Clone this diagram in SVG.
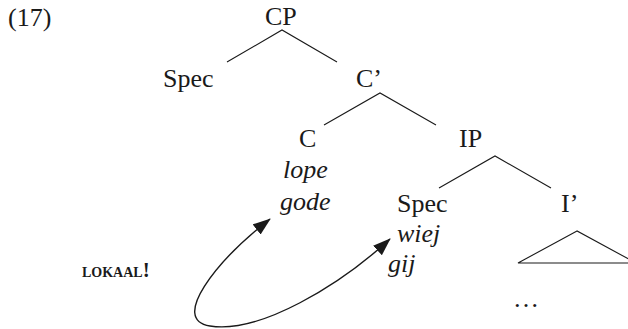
<svg xmlns="http://www.w3.org/2000/svg" width="628" height="329" viewBox="0 0 628 329">
<style>
text{font-family:"Liberation Serif","Times New Roman",serif;font-size:26px;fill:#1a1a1a}
.it{font-style:italic}
.sc{font-size:14px;font-weight:bold}
.ex{font-size:21px;font-weight:bold}
.edge{stroke:#1a1a1a;stroke-width:1.1;fill:none}
.arc{stroke:#1a1a1a;stroke-width:1.4;fill:none;marker-start:url(#ah);marker-end:url(#ah)}
</style>
<defs>
<marker id="ah" markerUnits="userSpaceOnUse" markerWidth="18" markerHeight="14" refX="17" refY="6.5" orient="auto-start-reverse">
<path d="M0,0 L18,6.5 L0,13 Z" fill="#1a1a1a"/>
</marker>
</defs>
<rect width="628" height="329" fill="#fff"/>
<g id="label17"><text x="8" y="26">(17)</text></g>
<g id="CP"><text x="265" y="24.5">CP</text></g>
<g id="SpecC"><text x="163" y="86.5">Spec</text></g>
<g id="Cbar"><text x="356" y="87">C’</text></g>
<g id="C"><text x="299" y="147">C</text><text class="it" x="283" y="178">lope</text><text class="it" x="280" y="210">gode</text></g>
<g id="IP"><text x="459" y="147">IP</text></g>
<g id="SpecI"><text x="397" y="212">Spec</text><text class="it" x="397" y="242">wiej</text><text class="it" x="388" y="272">gij</text></g>
<g id="Ibar"><text x="561" y="212">I’</text></g>
<g id="triangle"><polygon class="edge" points="577,231 518,263 636,263"/><text x="513" y="307">…</text></g>
<g id="lokaal"><text x="82" y="277"><tspan class="sc">LOKAAL</tspan><tspan class="ex">!</tspan></text></g>
<g id="connectors">
<polyline class="edge" points="227,62 282,30 337,62"/>
<polyline class="edge" points="324,125 380,93 436,125"/>
<polyline class="edge" points="439,188 495,156 551,188"/>
<path class="arc" d="M270,219 C215,262 170,320 210,326 C260,334 340,285 390,239"/>
</g>
</svg>
